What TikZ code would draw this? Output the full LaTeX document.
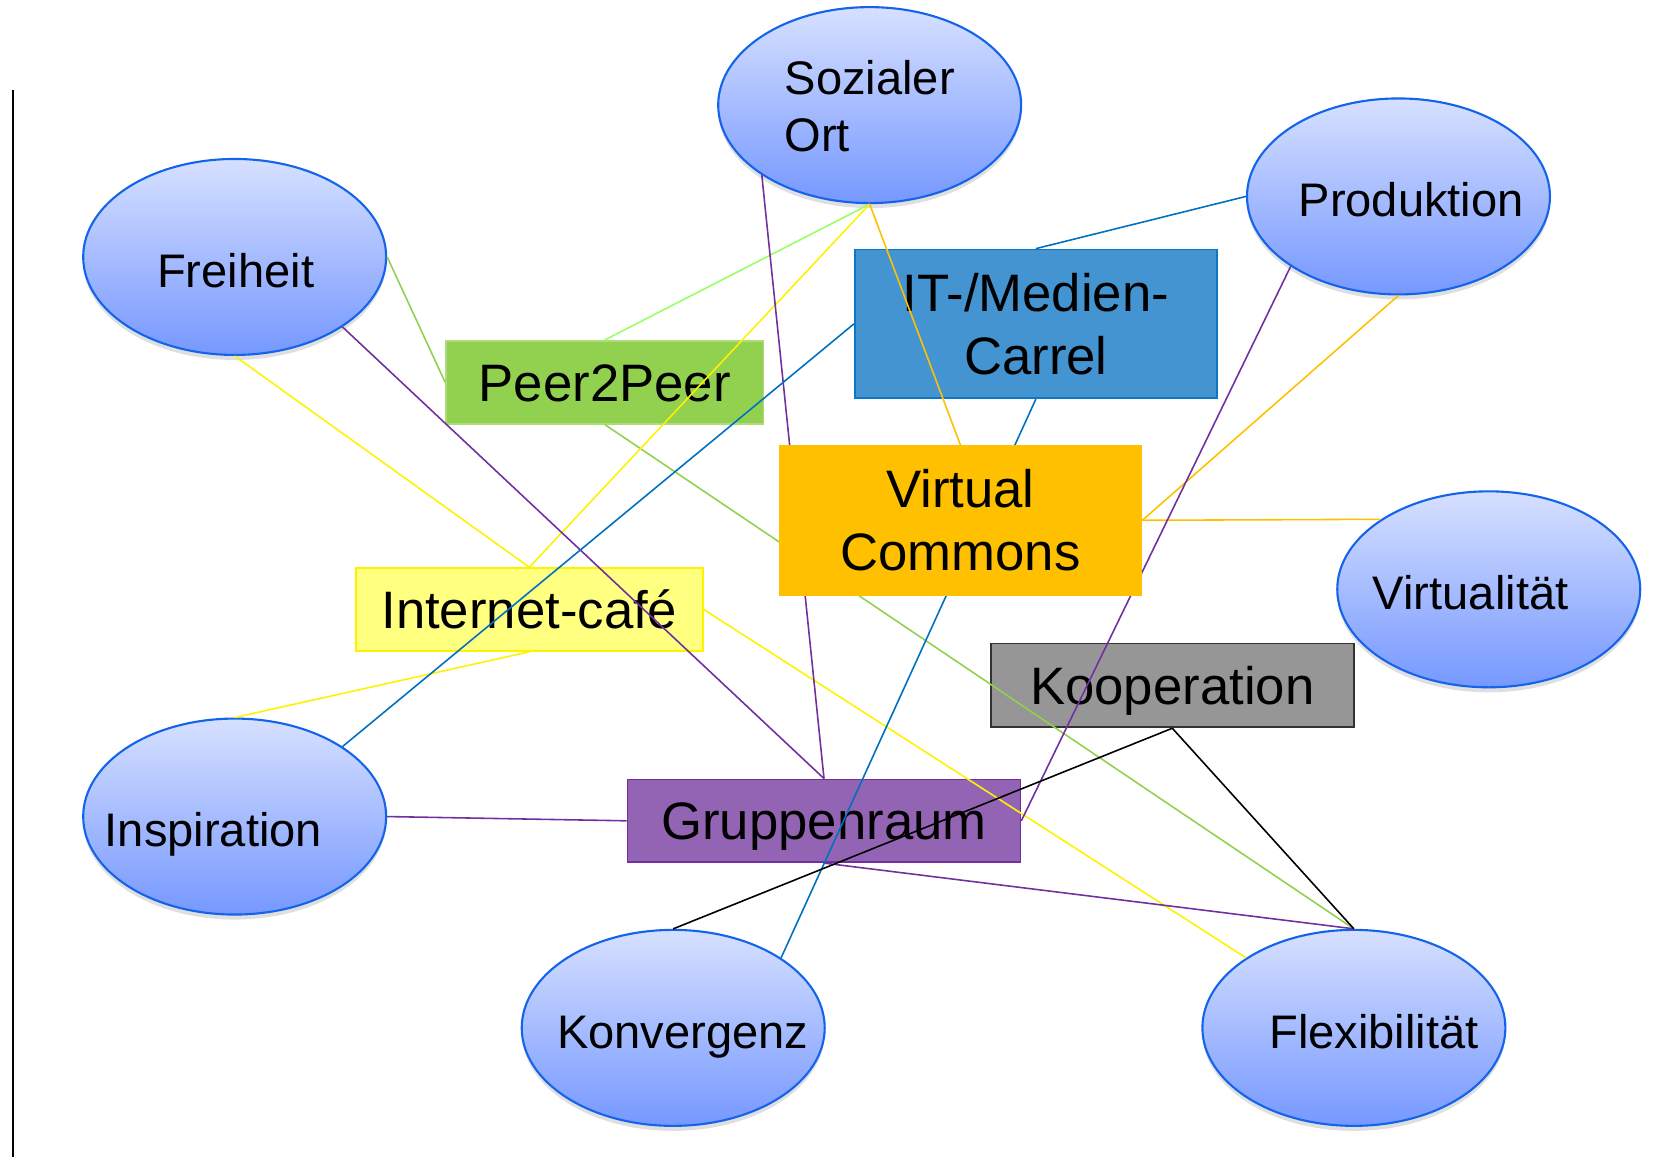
\documentclass[tikz,border=0pt]{standalone}
\usepackage{fontspec}
\setmainfont{Liberation Sans}
\usetikzlibrary{shapes.geometric,shadows}
\definecolor{bubtop}{RGB}{214,224,255}
\definecolor{bubbot}{RGB}{118,152,255}
\definecolor{bubline}{RGB}{20,100,235}
\definecolor{ltgreen}{RGB}{153,255,102}
\definecolor{pgreen}{RGB}{146,208,80}
\definecolor{itblue}{RGB}{67,148,208}
\definecolor{lnblue}{RGB}{0,112,192}
\definecolor{vcgold}{RGB}{255,192,0}
\definecolor{cafeyel}{RGB}{255,255,128}
\definecolor{koopgray}{RGB}{150,150,150}
\definecolor{gruppurple}{RGB}{148,100,180}
\definecolor{lnpurple}{RGB}{112,48,160}
\pgfdeclarelayer{front}
\pgfsetlayers{main,front}
\begin{document}
\begin{tikzpicture}[
  x=0.010619cm, y=-0.010619cm,
  bubble/.style={ellipse, draw=bubline, line width=0.6pt, top color=bubtop, bottom color=bubbot,
    minimum width=3.03cm, minimum height=1.96cm, inner sep=0pt,
    drop shadow={shadow xshift=0pt, shadow yshift=-0.05cm, opacity=0.25}},
  bubtext/.style={font=\fontsize{13.4}{16.3}\selectfont, anchor=base, inner sep=0pt},
  box/.style={rectangle, inner sep=0pt, line width=0.5pt, font=\fontsize{15}{18}\selectfont, align=center},
  oneline/.style={text height=10.7pt, text depth=0pt},
  link/.style={line width=0.45pt}
]
\useasboundingbox (0,0) rectangle (1568,1090);
\draw [line width=0.6pt] (12,85) -- (12,1090);

% ellipses
\node [bubble] (soz) at (819,99) {};
\node [bubtext, anchor=center, align=left] (soz-t) at (819,100) {Sozialer\\Ort};
\node [bubble] (frei) at (221,242) {};
\node [bubtext] (frei-t) at (222,271) {Freiheit};
\node [bubble] (prod) at (1317,185) {};
\node [bubtext] (prod-t) at (1329,204) {Produktion};
\node [bubble] (virt) at (1402,555) {};
\node [bubtext] (virt-t) at (1385,574) {Virtualität};
\node [bubble] (insp) at (221,769) {};
\node [bubtext] (insp-t) at (201,797) {Inspiration};
\node [bubble] (konv) at (634,968) {};
\node [bubtext] (konv-t) at (643,987) {Konvergenz};
\node [bubble] (flex) at (1275,968) {};
\node [bubtext] (flex-t) at (1294,987) {Flexibilität};

% boxes
\node [box, oneline, fill=pgreen, draw=pgreen!75!white, minimum width=3.175cm, minimum height=0.828cm] (p2p) at (569.5,360) {Peer2Peer};
\node [box, fill=itblue, draw=lnblue!80!itblue, minimum width=3.621cm, minimum height=1.487cm] (it) at (975.5,305) {IT-/Medien-\\Carrel};
\node [box, oneline, fill=cafeyel, draw=yellow, minimum width=3.472cm, minimum height=0.828cm] (cafe) at (498.5,574) {Internet-café};
\node [box, oneline, fill=koopgray, draw=black!80, minimum width=3.632cm, minimum height=0.839cm] (koop) at (1104,645.5) {Kooperation};
\node [box, oneline, fill=gruppurple, draw=lnpurple, minimum width=3.929cm, minimum height=0.828cm] (grupp) at (776,773) {Gruppenraum};
\begin{pgfonlayer}{front}
\node [box, fill=vcgold, draw=vcgold, minimum width=3.621cm, minimum height=1.487cm] (vc) at (904.5,490) {Virtual\\Commons};
\end{pgfonlayer}

% links
\draw [link, ltgreen] (soz.south) -- (p2p.north);
\draw [link, pgreen] (frei.east) -- (p2p.west);
\draw [link, pgreen] (p2p.south) -- (flex.north);
\draw [link, yellow] (soz.south) -- (cafe.north);
\draw [link, yellow] (frei.south) -- (cafe.north);
\draw [link, yellow] (cafe.south) -- (insp.north);
\draw [link, yellow] (cafe.east) -- (flex.north west);
\draw [link, vcgold] (soz.south) -- (vc.north);
\draw [link, vcgold] (prod.south) -- (vc.east);
\draw [link, vcgold] (vc.east) -- (virt.north west);
\draw [link, lnpurple] (frei.south east) -- (grupp.north);
\draw [link, lnpurple] (soz.south west) -- (grupp.north);
\draw [link, lnpurple] (prod.south west) -- (grupp.east);
\draw [link, lnpurple] (insp.east) -- (grupp.west);
\draw [link, lnpurple] (grupp.south) -- (flex.north);
\draw [link, lnblue] (insp.north east) -- (it.west);
\draw [link, lnblue] (it.north) -- (prod.west);
\draw [link, lnblue] (it.south) -- (konv.north east);
\draw [link, black] (koop.south) -- (konv.north);
\draw [link, black] (koop.south) -- (flex.north);
\end{tikzpicture}
\end{document}
